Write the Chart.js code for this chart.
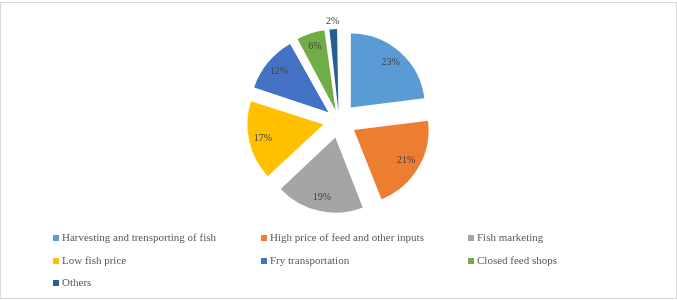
<!DOCTYPE html>
<html>
<head>
    <title>Fish farming problems</title>
    <script src="https://cdn.jsdelivr.net/npm/chart.js"></script>
    <style>
        body { margin: 0; background: #fff; }
        #frame { position: absolute; left: 0; top: 2px; width: 675px; height: 295px; border: 1px solid #d9d9d9; }
        #pie { position: absolute; left: 0; top: 0; }
        #legend { position: absolute; left: 0; top: 0; width: 677px; height: 300px; pointer-events: none;
                  font-family: "Liberation Serif", serif; font-size: 11px; color: #595959; }
        .item { position: absolute; white-space: nowrap; line-height: 12px; }
        .item span.box { display: inline-block; width: 6px; height: 6px; margin-right: 3px; vertical-align: 0px; }
    </style>
</head>
<body>
    <div id="frame"></div>
    <canvas id="pie" width="677" height="300"></canvas>
    <div id="legend"></div>

    <script>
        const labels = ['Harvesting and trensporting of fish', 'High price of feed and other inputs', 'Fish marketing',
                        'Low fish price', 'Fry transportation', 'Closed feed shops', 'Others'];
        const shares = [23, 21, 19, 17, 12, 6, 2];
        const colors = ['#5b9bd5', '#ed7d31', '#a5a5a5', '#ffc000', '#4472c4', '#70ad47', '#255e91'];

        const explode = 18; // px every slice is pulled out, same for all like excel

        // chart.js moves an arc by offset/4 * (2 - sin(angle)), so undo that to get an even gap
        const total = shares.reduce((a, b) => a + b, 0);
        const offsets = shares.map(v => {
            const circ = v / total * Math.PI * 2;
            return explode * 4 / (2 - Math.sin(Math.min(Math.PI, circ)));
        });

        // legend as 3 columns like the original
        const colX = [53, 261, 468];
        const rowY = [231, 254, 276];
        const legend = document.getElementById('legend');
        labels.forEach((name, i) => {
            const d = document.createElement('div');
            d.className = 'item';
            d.style.left = colX[i % 3] + 'px';
            d.style.top = rowY[Math.floor(i / 3)] + 'px';
            d.innerHTML = `<span class="box" style="background:${colors[i]}"></span>${name}`;
            legend.appendChild(d);
        });

        // percent labels on slices (small ones go outside)
        const pctLabels = {
            id: 'pctLabels',
            afterDatasetsDraw(chart) {
                const ctx = chart.ctx;
                const meta = chart.getDatasetMeta(0);
                ctx.save();
                ctx.font = '10px "Liberation Serif", serif';
                ctx.fillStyle = '#404040';
                ctx.textAlign = 'center';
                ctx.textBaseline = 'middle';
                meta.data.forEach((arc, i) => {
                    const mid = (arc.startAngle + arc.endAngle) / 2;
                    const r = arc.outerRadius;
                    const d = shares[i] < 5 ? explode + r + 8 : explode + r * 0.81;
                    ctx.fillText(shares[i] + '%', arc.x + Math.cos(mid) * d, arc.y + Math.sin(mid) * d);
                });
                ctx.restore();
            }
        };

        new Chart(document.getElementById('pie'), {
            type: 'pie',
            data: {
                labels: labels,
                datasets: [{ data: shares, backgroundColor: colors, borderWidth: 0, offset: offsets }]
            },
            options: {
                responsive: false,
                animation: false,
                radius: 74,
                layout: { padding: { bottom: 58, left: 1 } },
                plugins: { legend: { display: false }, tooltip: { enabled: false } }
            },
            plugins: [pctLabels]
        });
    </script>
</body>
</html>
